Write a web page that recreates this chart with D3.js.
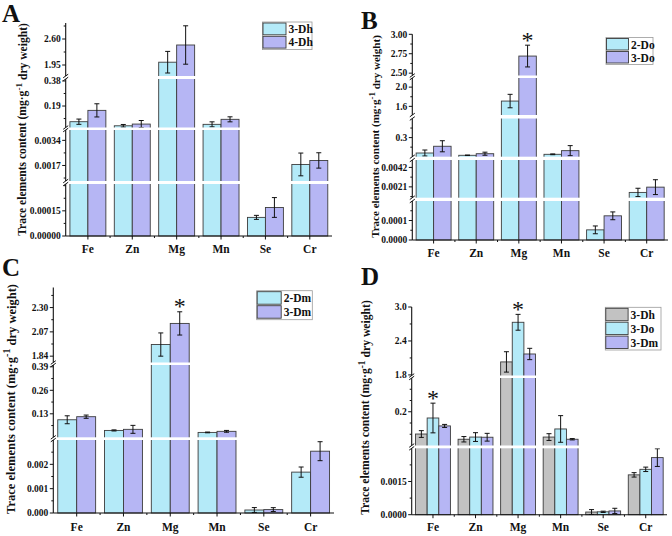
<!DOCTYPE html>
<html><head><meta charset="utf-8">
<script src="https://cdn.jsdelivr.net/npm/d3@7"></script>
<style>body{margin:0;background:#fff}svg{display:block}</style>
</head><body><svg id="c" width="672" height="536"></svg>
<script>
const categories = ["Fe","Zn","Mg","Mn","Se","Cr"];

// ---- Panel A ----
const seriesA = ["3-Dh","4-Dh"];
const meanA_3Dh = [0.071, 0.040, 2.02, 0.051, 0.000111, 0.00177];
const errA_3Dh  = [0.020, 0.010, 0.27, 0.019, 0.000012, 0.00077];
const meanA_4Dh = [0.157, 0.053, 2.45, 0.089, 0.000170, 0.00204];
const errA_4Dh  = [0.050, 0.027, 0.48, 0.019, 0.000059, 0.00052];
const segDomainsA = [[0, 0.00031], [0.00065, 0.0041], [0.027, 0.395], [1.675, 3.0]];
const tickLabelsA = [["0.00000","0.00015"], ["0.0017","0.0034"], ["0.19","0.38"], ["1.95","2.60"]];
const minorStepsA = [0.000075, 0.00085, 0.095, 0.325];
const starsA = [];

// ---- Panel B ----
const seriesB = ["2-Do","3-Do"];
const meanB_2Do = [0.058, 0.022, 1.71, 0.0375, 0.000052, 0.00150];
const errB_2Do  = [0.047, 0.004, 0.14, 0.006, 0.000020, 0.00045];
const meanB_3Do = [0.164, 0.047, 2.72, 0.095, 0.000124, 0.00207];
const errB_3Do  = [0.087, 0.024, 0.14, 0.079, 0.000020, 0.00080];
const segDomainsB = [[0, 0.0002], [0.00093, 0.005], [0, 0.6], [1.42, 2.19], [2.47, 3.0]];
const tickLabelsB = [["0.0000","0.0001"], ["0.0021","0.0042"], ["0.3"], ["1.6","2.0"], ["2.50","2.75","3.00"]];
const minorStepsB = [0.00005, 0.00105, 0.15, 0.2, 0.125];
const starsB = [["Mg","3-Do"]];

// ---- Panel C ----
const seriesC = ["2-Dm","3-Dm"];
const meanC_2Dm = [0.097, 0.038, 1.95, 0.027, 0.000123, 0.00168];
const errC_2Dm  = [0.022, 0.003, 0.11, 0.002, 0.000100, 0.00021];
const meanC_3Dm = [0.114, 0.044, 2.15, 0.033, 0.000140, 0.00254];
const errC_3Dm  = [0.009, 0.022, 0.11, 0.005, 0.000080, 0.00039];
const segDomainsC = [[0, 0.003], [0, 0.40], [1.78, 2.49]];
const tickLabelsC = [["0.000","0.001","0.002"], ["0.13","0.26","0.39"], ["1.84","2.07","2.30"]];
const minorStepsC = [0.0005, 0.065, 0.115];
const starsC = [["Mg","3-Dm"]];

// ---- Panel D ----
const seriesD = ["3-Dh","3-Do","3-Dm"];
const meanD_3Dh = [0.068, 0.037, 2.03, 0.050, 0.00012, 0.00180];
const errD_3Dh  = [0.020, 0.016, 0.18, 0.020, 0.00011, 0.00010];
const meanD_3Do = [0.163, 0.050, 2.73, 0.098, 0.00013, 0.00205];
const errD_3Do  = [0.088, 0.026, 0.14, 0.079, 0.00003, 0.00010];
const meanD_3Dm = [0.116, 0.049, 2.17, 0.037, 0.00017, 0.00258];
const errD_3Dm  = [0.009, 0.023, 0.10, 0.004, 0.00012, 0.00040];
const segDomainsD = [[0, 0.003], [0, 0.4], [1.79, 3.0]];
const tickLabelsD = [["0.0000","0.0015"], ["0.2"], ["1.8","2.4","3.0"]];
const minorStepsD = [0.00075, 0.2/3, 0.3];
const starsD = [["Fe","3-Do"], ["Mg","3-Do"]];

const CYAN = "#b4eaf8", LAV = "#b6b6f4", GRAY = "#c2c2c2";
const FONT = "'Liberation Serif','Times New Roman',serif";
const svg = d3.select("#c");

function drawPanel(p) {
  const g = svg.append("g");
  const segs = p.domains.map((d, i) => d3.scaleLinear().domain(d).range(p.ranges[i]));
  const n = segs.length;
  const x0 = d3.scaleBand().domain(categories).range([p.axisX, p.xRight])
      .paddingInner(p.pad).paddingOuter(p.pad / 2);
  const x1 = d3.scaleBand().domain(p.series).range([0, x0.bandwidth()]);
  const segOf = v => { for (let i = 0; i < n; i++) if (v <= p.domains[i][1]) return i; return n - 1; };

  // bars
  p.series.forEach((s, si) => {
    categories.forEach((c, ci) => {
      const v = p.means[si][ci];
      const sc = segs[segOf(v)];
      const y = sc(v);
      g.append("rect")
        .attr("x", x0(c) + x1(s)).attr("y", y)
        .attr("width", x1.bandwidth()).attr("height", p.yBottom - y)
        .attr("fill", p.colors[si]).attr("stroke", "#3c3c3c").attr("stroke-width", 0.9);
    });
  });
  // error bars
  const errTops = {};
  p.series.forEach((s, si) => {
    categories.forEach((c, ci) => {
      const v = p.means[si][ci], e = p.errs[si][ci];
      const sc = segs[segOf(v)];
      const cx = x0(c) + x1(s) + x1.bandwidth() / 2;
      const yt = sc(v + e), yb = sc(v - e);
      errTops[c + "|" + s] = [cx, yt];
      g.append("line").attr("x1", cx).attr("x2", cx).attr("y1", yt).attr("y2", yb)
        .attr("stroke", "#111").attr("stroke-width", 1);
      [yt, yb].forEach(yy => g.append("line").attr("x1", cx - 2.5).attr("x2", cx + 2.5)
        .attr("y1", yy).attr("y2", yy).attr("stroke", "#111").attr("stroke-width", 1));
    });
  });
  // white gaps at breaks
  for (let i = 0; i < n - 1; i++) {
    const top = p.ranges[i + 1][0], bot = p.ranges[i][1];
    g.append("rect").attr("x", p.axisX - 4).attr("y", top)
      .attr("width", p.xRight - p.axisX + 4).attr("height", bot - top).attr("fill", "#fff");
  }
  // y axis segments
  for (let i = 0; i < n; i++) {
    g.append("line").attr("x1", p.axisX).attr("x2", p.axisX)
      .attr("y1", p.ranges[i][0]).attr("y2", p.ranges[i][1])
      .attr("stroke", "#111").attr("stroke-width", 1.1);
  }
  // break marks
  for (let i = 0; i < n - 1; i++) {
    const top = p.ranges[i + 1][0], bot = p.ranges[i][1];
    [top, bot].forEach(yy => g.append("line")
      .attr("x1", p.axisX - 2.5).attr("y1", yy + 1.8)
      .attr("x2", p.axisX + 2.5).attr("y2", yy - 1.8)
      .attr("stroke", "#111").attr("stroke-width", 1));
  }
  // ticks
  for (let i = 0; i < n; i++) {
    const [lo, hi] = p.domains[i];
    const eps = (hi - lo) * 1e-6;
    const inside = v => (i === 0 ? v >= lo - eps : v > lo + eps) && (i === n - 1 ? v <= hi + eps : v < hi - eps);
    const majors = p.ticks[i].map(t => +t);
    p.ticks[i].forEach(t => {
      const v = +t; if (!inside(v)) return;
      const y = segs[i](v);
      g.append("line").attr("x1", p.axisX - 3.5).attr("x2", p.axisX).attr("y1", y).attr("y2", y)
        .attr("stroke", "#111").attr("stroke-width", 1);
      g.append("text").attr("x", p.axisX - 5).attr("y", y).attr("dy", "0.35em")
        .attr("text-anchor", "end").attr("font-family", FONT).attr("font-weight", "bold")
        .attr("font-size", 9.5).attr("fill", "#111").text(t);
    });
    const st = p.minor[i];
    for (let k = Math.ceil((lo - eps) / st); k <= Math.floor((hi + eps) / st); k++) {
      const v = k * st;
      if (!inside(v)) continue;
      if (majors.some(m => Math.abs(m - v) < st * 0.05)) continue;
      const y = segs[i](v);
      g.append("line").attr("x1", p.axisX - 2).attr("x2", p.axisX).attr("y1", y).attr("y2", y)
        .attr("stroke", "#111").attr("stroke-width", 1);
    }
  }
  // x axis
  g.append("line").attr("x1", p.axisX).attr("x2", p.xRight).attr("y1", p.yBottom).attr("y2", p.yBottom)
    .attr("stroke", "#111").attr("stroke-width", 1.1);
  categories.forEach((c, ci) => {
    const cx = x0(c) + x0.bandwidth() / 2;
    g.append("line").attr("x1", cx).attr("x2", cx).attr("y1", p.yBottom).attr("y2", p.yBottom + 3.5)
      .attr("stroke", "#111").attr("stroke-width", 1);
    const bx = p.axisX + (ci + 1) * x0.step();
    if (ci < categories.length - 1)
      g.append("line").attr("x1", bx).attr("x2", bx).attr("y1", p.yBottom).attr("y2", p.yBottom + 2)
        .attr("stroke", "#111").attr("stroke-width", 1);
    g.append("text").attr("x", cx).attr("y", p.yBottom + p.xLabOff)
      .attr("text-anchor", "middle").attr("font-family", FONT).attr("font-weight", "bold")
      .attr("font-size", 11.5).attr("fill", "#111").text(c);
  });
  // stars
  p.stars.forEach(([c, s]) => {
    const [cx, yt] = errTops[c + "|" + s];
    g.append("text").attr("x", cx).attr("y", yt - 7.5 + 10)
      .attr("text-anchor", "middle").attr("font-family", FONT)
      .attr("font-size", 24).attr("fill", "#111").text("*");
  });
  // legend
  const L = p.legend;
  g.append("rect").attr("x", L.x).attr("y", L.y).attr("width", L.w).attr("height", L.rowH * p.series.length + 1)
    .attr("fill", "#fff").attr("stroke", "#9a9a9a").attr("stroke-width", 0.8);
  p.series.forEach((s, si) => {
    const yy = L.y + 0.5 + si * L.rowH;
    g.append("rect").attr("x", L.x + 0.5).attr("y", yy + 0.5).attr("width", L.sw).attr("height", L.rowH - 1.5)
      .attr("fill", p.colors[si]).attr("stroke", "#3c3c3c").attr("stroke-width", 0.9);
    g.append("text").attr("x", L.x + L.sw + 3).attr("y", yy + L.rowH / 2).attr("dy", "0.35em")
      .attr("font-family", FONT).attr("font-weight", "bold").attr("font-size", 11.5)
      .attr("fill", "#111").text(s);
  });
  // y title
  const t = g.append("text")
    .attr("transform", `translate(${p.title.x},${p.title.y}) rotate(-90)`)
    .attr("text-anchor", "middle").attr("dy", "0.35em")
    .attr("font-family", FONT).attr("font-weight", "bold").attr("font-size", 12).attr("fill", "#111");
  t.append("tspan").text("Trace elements content (mg·g");
  t.append("tspan").attr("dy", "-0.45em").attr("font-size", "0.8em").text("-1");
  t.append("tspan").attr("dy", "0.45em").text(" dry weight)");
  const len = t.node().getComputedTextLength();
  t.attr("font-size", 12 * p.title.len / len);
  // panel letter
  g.append("text").attr("x", p.letter.x).attr("y", p.letter.y)
    .attr("font-family", FONT).attr("font-weight", "bold").attr("font-size", 25)
    .attr("fill", "#111").text(p.letter.t);
}

drawPanel({
  series: seriesA, means: [meanA_3Dh, meanA_4Dh], errs: [errA_3Dh, errA_4Dh], colors: [CYAN, LAV],
  domains: segDomainsA, ticks: tickLabelsA, minor: minorStepsA, stars: starsA,
  axisX: 65.7, xRight: 332, yBottom: 236, pad: 0.19, xLabOff: 16.5,
  ranges: [[236, 184], [181, 130], [127.5, 79], [76, 23]],
  legend: {x: 262.5, y: 22, w: 49.5, rowH: 13.3, sw: 23},
  title: {x: 22, y: 129.5, len: 213}, letter: {x: 2, y: 22, t: "A"}
});
drawPanel({
  series: seriesB, means: [meanB_2Do, meanB_3Do], errs: [errB_2Do, errB_3Do], colors: [CYAN, LAV],
  domains: segDomainsB, ticks: tickLabelsB, minor: minorStepsB, stars: starsB,
  axisX: 412.3, xRight: 668, yBottom: 240, pad: 0.18, xLabOff: 16.5,
  ranges: [[240, 201], [197.7, 160], [156.7, 118.5], [115, 78], [75.5, 34.3]],
  legend: {x: 606, y: 37.5, w: 47, rowH: 13, sw: 22},
  title: {x: 375, y: 136.5, len: 203}, letter: {x: 361, y: 29, t: "B"}
});
drawPanel({
  series: seriesC, means: [meanC_2Dm, meanC_3Dm], errs: [errC_2Dm, errC_3Dm], colors: [CYAN, LAV],
  domains: segDomainsC, ticks: tickLabelsC, minor: minorStepsC, stars: starsC,
  axisX: 53.3, xRight: 334, yBottom: 513, pad: 0.19, xLabOff: 17.5,
  ranges: [[513, 440], [437.3, 365], [362.5, 287.5]],
  legend: {x: 256.7, y: 290.7, w: 55.6, rowH: 14, sw: 24},
  title: {x: 10.5, y: 399, len: 230}, letter: {x: 2, y: 276, t: "C"}
});
drawPanel({
  series: seriesD, means: [meanD_3Dh, meanD_3Do, meanD_3Dm], errs: [errD_3Dh, errD_3Do, errD_3Dm],
  colors: [GRAY, CYAN, LAV],
  domains: segDomainsD, ticks: tickLabelsD, minor: minorStepsD, stars: starsD,
  axisX: 411.7, xRight: 667, yBottom: 514.7, pad: 0.18, xLabOff: 16.5,
  ranges: [[514.7, 448.3], [445.5, 378], [375.5, 307]],
  legend: {x: 605.3, y: 307.3, w: 55.7, rowH: 13.9, sw: 22.3},
  title: {x: 365, y: 407.5, len: 215}, letter: {x: 361, y: 285, t: "D"}
});
</script></body></html>
